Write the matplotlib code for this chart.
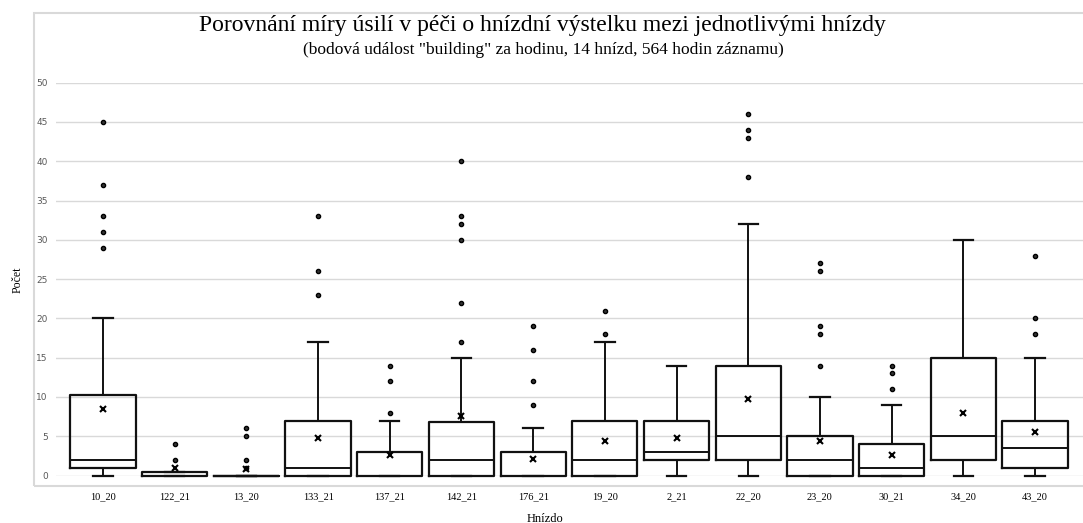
import matplotlib
matplotlib.use('Agg')
import matplotlib.pyplot as plt
from matplotlib.patches import Rectangle

# data
nests = ['10_20', '122_21', '13_20', '133_21', '137_21', '142_21', '176_21',
         '19_20', '2_21', '22_20', '23_20', '30_21', '34_20', '43_20']
whislo = [0, 0, 0, 0, 0, 0, 0, 0, 0, 0, 0, 0, 0, 0]
q1 = [1, 0, 0, 0, 0, 0, 0, 0, 2, 2, 0, 0, 2, 1]
med = [2, 0, 0, 1, 0, 2, 0, 2, 3, 5, 2, 1, 5, 3.5]
q3 = [10.3, 0.5, 0, 7, 3, 6.8, 3, 7, 7, 14, 5, 4, 15, 7]
whishi = [20, 0.5, 0, 17, 7, 15, 6, 17, 14, 32, 10, 9, 30, 15]
means = [8.45, 1.0, 0.8, 4.8, 2.6, 7.6, 2.1, 4.35, 4.8, 9.8, 4.4, 2.55, 8.0, 5.6]
fliers = [
    [45, 37, 33, 31, 29],
    [4, 2],
    [6, 5, 2, 1],
    [33, 26, 23],
    [14, 12, 8],
    [40, 33, 32, 30, 22, 17],
    [19, 16, 12, 9],
    [21, 18],
    [],
    [46, 44, 43, 38],
    [27, 26, 19, 18, 14],
    [14, 13, 11],
    [],
    [28, 20, 18],
]

W, H = 1083, 523
fig = plt.figure(figsize=(W / 100, H / 100), dpi=100)

# light frame of the plot area
fig.patches.append(Rectangle((34 / W, 1 - 486 / H), 1.2, (486 - 13) / H,
                             transform=fig.transFigure, fill=False,
                             edgecolor='#d9d9d9', lw=1.5))

ax = fig.add_axes([56 / W, 1 - 475.5 / H, (W - 56) / W, (475.5 - 82.7) / H])

stats = []
for i in range(len(nests)):
    stats.append(dict(label=nests[i], whislo=whislo[i], q1=q1[i], med=med[i],
                      q3=q3[i], whishi=whishi[i], mean=means[i],
                      fliers=fliers[i]))

bp = ax.bxp(stats, positions=range(len(nests)), widths=0.91, capwidths=0.27,
            showmeans=True, patch_artist=False,
            boxprops=dict(color='#111111', lw=1.6),
            whiskerprops=dict(color='#111111', lw=1.4),
            capprops=dict(color='#111111', lw=1.6),
            medianprops=dict(color='#111111', lw=1.4),
            meanprops=dict(marker='x', markeredgecolor='black',
                           markersize=5, markeredgewidth=1.5),
            flierprops=dict(marker='o', markerfacecolor='#333333',
                            markeredgecolor='black', markersize=3,
                            markeredgewidth=1.0))
for group in bp.values():
    for art in group:
        art.set_clip_on(False)

ax.set_xlim(-0.656, 13.67)
ax.set_ylim(0, 50)
ax.set_yticks(range(0, 51, 5))
ax.yaxis.grid(True, color='#d9d9d9', lw=1)
ax.set_axisbelow(True)
for s in ax.spines.values():
    s.set_visible(False)

ax.tick_params(axis='y', length=0, pad=6, labelsize=6.5, labelcolor='#595959')
ax.tick_params(axis='x', length=0, pad=12, labelsize=7.5)
for lab in ax.get_xticklabels():
    lab.set_family('Liberation Serif')
for lab in ax.get_yticklabels():
    lab.set_family('DejaVu Sans')

fig.text(545 / W, 1 - 513 / H, 'Hnízdo', ha='center', va='top',
         family='Liberation Serif', fontsize=9)
fig.text(18 / W, 1 - 280 / H, 'Počet', ha='center', va='center', rotation=90,
         family='Liberation Serif', fontsize=8.5)

fig.text(542 / W, 1 - 25 / H,
         'Porovnání míry úsilí v péči o hnízdní výstelku mezi jednotlivými hnízdy',
         ha='center', va='center', family='Liberation Serif', fontsize=17)
fig.text(543 / W, 1 - 50 / H,
         '(bodová událost "building" za hodinu, 14 hnízd, 564 hodin záznamu)',
         ha='center', va='center', family='Liberation Serif', fontsize=12.5)

fig.savefig('out.png', dpi=100)
